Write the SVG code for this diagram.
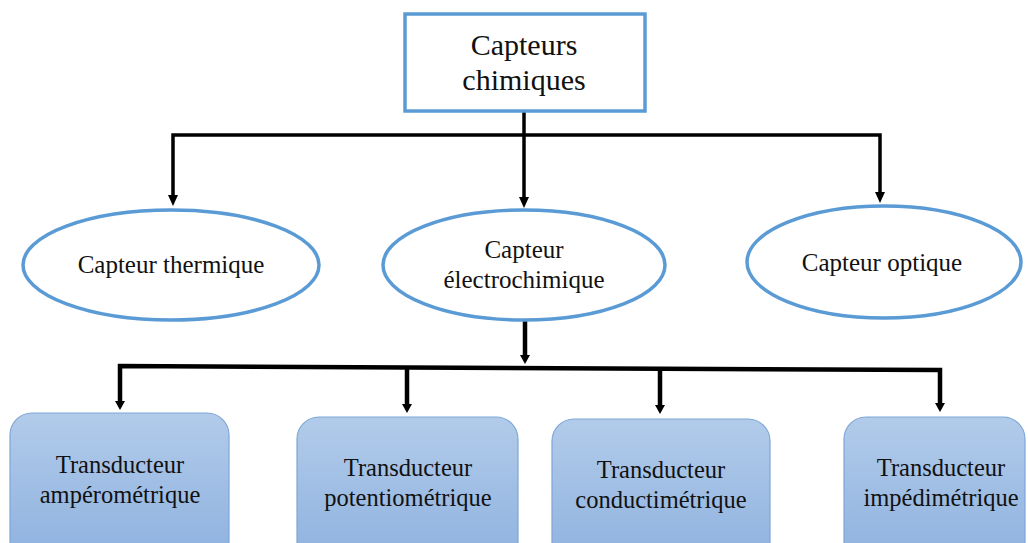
<svg xmlns="http://www.w3.org/2000/svg" width="1028" height="543" viewBox="0 0 1028 543">
<style>
text{font-family:'Liberation Serif','DejaVu Serif',serif;fill:#111;text-anchor:middle}
.ell{fill:#fff;stroke:#5B9BD5;stroke-width:3.5}
.box{fill:url(#g);stroke:#7EA6D6;stroke-width:1.2}
.ln{fill:none;stroke:#000;stroke-width:3.5}
.ln2{fill:none;stroke:#000;stroke-width:4.5}
</style>
<defs>
<linearGradient id="g" x1="0" y1="0" x2="0" y2="1">
<stop offset="0" stop-color="#B2CBEA"/>
<stop offset="1" stop-color="#8DB1DF"/>
</linearGradient>
</defs>
<rect width="1028" height="543" fill="#fff"/>
<g id="connectors">
<line class="ln" x1="524" y1="111" x2="524" y2="135"/>
<polyline class="ln" points="173,196 173,135 880,135 880,193"/>
<path d="M168,195 L178,195 L173,206 Z"/>
<line class="ln" x1="524" y1="135" x2="524" y2="198"/>
<path d="M519,197 L529,197 L524,208 Z"/>
<path d="M875,192 L885,192 L880,203 Z"/>
<line class="ln2" x1="525" y1="321" x2="525" y2="356"/>
<path d="M520,355 L530,355 L525,364 Z"/>
<polyline class="ln2" points="120,402 120,366 940,370 940,404"/>
<path d="M115,401 L125,401 L120,410 Z"/>
<line class="ln2" x1="407" y1="368" x2="407" y2="405"/>
<path d="M402,404 L412,404 L407,413 Z"/>
<line class="ln2" x1="660" y1="369" x2="660" y2="406"/>
<path d="M655,405 L665,405 L660,414 Z"/>
<path d="M935,403 L945,403 L940,412 Z"/>
</g>
<g id="root">
<rect x="405" y="14" width="240" height="97" fill="#fff" stroke="#5B9BD5" stroke-width="3.5"/>
<text x="524" y="55" font-size="30">Capteurs</text>
<text x="524" y="90" font-size="30">chimiques</text>
</g>
<g id="thermique">
<ellipse class="ell" cx="171" cy="265" rx="148" ry="55"/>
<text x="171" y="273" font-size="25">Capteur thermique</text>
</g>
<g id="electrochimique">
<ellipse class="ell" cx="524" cy="265" rx="141" ry="55"/>
<text x="524" y="258" font-size="25">Capteur</text>
<text x="524" y="288" font-size="25">électrochimique</text>
</g>
<g id="optique">
<ellipse class="ell" cx="884" cy="262" rx="137" ry="56"/>
<text x="882" y="271" font-size="25">Capteur optique</text>
</g>
<g id="amperometrique">
<rect class="box" x="10" y="413" width="219" height="150" rx="22"/>
<text x="120" y="473" font-size="24.5">Transducteur</text>
<text x="120" y="503" font-size="24.5">ampérométrique</text>
</g>
<g id="potentiometrique">
<rect class="box" x="297" y="417" width="221" height="150" rx="22"/>
<text x="408" y="476" font-size="24.5">Transducteur</text>
<text x="408" y="506" font-size="24.5">potentiométrique</text>
</g>
<g id="conductimetrique">
<rect class="box" x="552" y="419" width="218" height="150" rx="22"/>
<text x="661" y="478" font-size="24.5">Transducteur</text>
<text x="661" y="508" font-size="24.5">conductimétrique</text>
</g>
<g id="impedimetrique">
<rect class="box" x="844" y="417" width="181" height="150" rx="22"/>
<text x="941" y="476" font-size="24.5">Transducteur</text>
<text x="941" y="506" font-size="24.5">impédimétrique</text>
</g>
</svg>
